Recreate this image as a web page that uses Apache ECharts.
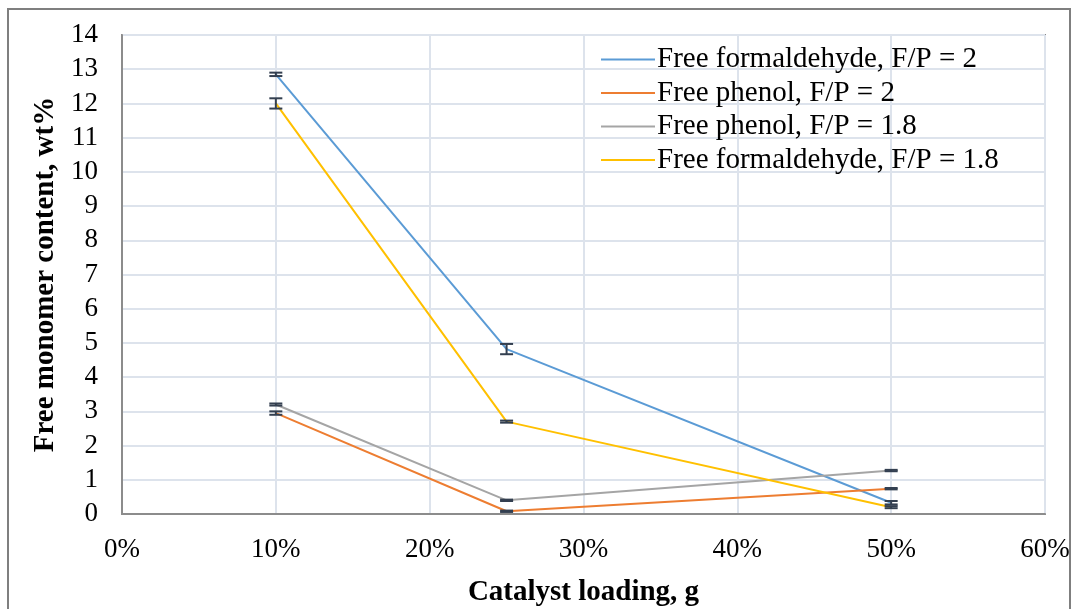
<!DOCTYPE html>
<html>
<head>
<meta charset="utf-8">
<script src="https://cdn.jsdelivr.net/npm/echarts@6/dist/echarts.min.js"></script>
<style>
  html, body { margin: 0; padding: 0; background: #fff; }
  #chart { width: 1073px; height: 609px; }
</style>
</head>
<body>
<div id="chart"></div>
<script>
  // catalyst loading (%)
  var loading = [10, 25, 50]
  var seriesNames = ['Free formaldehyde, F/P = 2', 'Free phenol, F/P = 2', 'Free phenol, F/P = 1.8', 'Free formaldehyde, F/P = 1.8']
  var formaldehyde2 = [12.85, 4.82, 0.33]
  var phenol2 = [2.95, 0.08, 0.74]
  var phenol18 = [3.2, 0.4, 1.27]
  var formaldehyde18 = [12.0, 2.7, 0.2]
  // error bar half widths
  var errFormaldehyde2 = [0.05, 0.15, 0.05]
  var errPhenol2 = [0.05, 0.02, 0.02]
  var errPhenol18 = [0.03, 0.02, 0.02]
  var errFormaldehyde18 = [0.15, 0.03, 0.03]
  var colors = ['#5b9bd5', '#ed7d31', '#a5a5a5', '#ffc000']

  var allValues = [formaldehyde2, phenol2, phenol18, formaldehyde18]
  var allErrors = [errFormaldehyde2, errPhenol2, errPhenol18, errFormaldehyde18]

  var font = 'Liberation Serif'
  var myChart = echarts.init(document.getElementById('chart'))

  var series = []
  allValues.forEach(function (vals, i) {
    series.push({
      name: seriesNames[i],
      type: 'line',
      symbol: 'none',
      z: 3,
      lineStyle: { color: colors[i], width: 2 },
      itemStyle: { color: colors[i] },
      data: loading.map(function (x, j) { return [x, vals[j]] })
    })
  })
  // error bars
  allValues.forEach(function (vals, i) {
    series.push({
      type: 'custom',
      z: 4,
      silent: true,
      data: loading.map(function (x, j) { return [x, vals[j] - allErrors[i][j], vals[j] + allErrors[i][j]] }),
      renderItem: function (params, api) {
        var lo = api.coord([api.value(0), api.value(1)])
        var hi = api.coord([api.value(0), api.value(2)])
        var w = 6.5
        var st = { stroke: '#333f50', lineWidth: 2 }
        return {
          type: 'group',
          children: [
            { type: 'line', shape: { x1: lo[0], y1: lo[1], x2: hi[0], y2: hi[1] }, style: st },
            { type: 'line', shape: { x1: lo[0] - w, y1: lo[1], x2: lo[0] + w, y2: lo[1] }, style: st },
            { type: 'line', shape: { x1: hi[0] - w, y1: hi[1], x2: hi[0] + w, y2: hi[1] }, style: st }
          ]
        }
      }
    })
  })

  var option = {
    backgroundColor: '#fff',
    animation: false,
    graphic: [{
      type: 'rect',
      shape: { x: 8, y: 9, width: 1062, height: 620 },
      style: { fill: 'none', stroke: '#7f7f7f', lineWidth: 2 },
      silent: true
    }],
    grid: {
      left: 122, top: 35, right: 28, bottom: 95,
      outerBoundsMode: 'none',
      show: true, borderColor: '#333', borderWidth: 1.5, backgroundColor: 'transparent'
    },
    legend: {
      orient: 'vertical',
      left: 596,
      top: 40,
      itemWidth: 54,
      itemHeight: 2,
      itemGap: 4.5,
      icon: 'rect',
      textStyle: { fontFamily: font, fontSize: 29, color: '#000', padding: [0, 0, 0, -3] },
      data: seriesNames
    },
    xAxis: {
      type: 'value',
      min: 0,
      max: 60,
      interval: 10,
      name: 'Catalyst loading, g',
      nameLocation: 'middle',
      nameGap: 64,
      nameTextStyle: { fontFamily: font, fontSize: 29, fontWeight: 'bold', color: '#000' },
      axisLine: { show: true, lineStyle: { color: '#8c8c8c', width: 2 } },
      axisTick: { show: false },
      axisLabel: { fontFamily: font, fontSize: 27, color: '#000', margin: 22, formatter: '{value}%' },
      splitLine: { show: true, lineStyle: { color: '#dde3ec', width: 2 } }
    },
    yAxis: {
      type: 'value',
      min: 0,
      max: 14,
      interval: 1,
      name: 'Free monomer content, wt%',
      nameLocation: 'middle',
      nameGap: 62,
      nameTextStyle: { fontFamily: font, fontSize: 29, fontWeight: 'bold', color: '#000' },
      axisLine: { show: true, lineStyle: { color: '#8c8c8c', width: 2 } },
      axisTick: { show: false },
      axisLabel: { fontFamily: font, fontSize: 27, color: '#000', margin: 24 },
      splitLine: { show: true, lineStyle: { color: '#dde3ec', width: 2 } }
    },
    series: series
  }
  myChart.setOption(option)
</script>
</body>
</html>
